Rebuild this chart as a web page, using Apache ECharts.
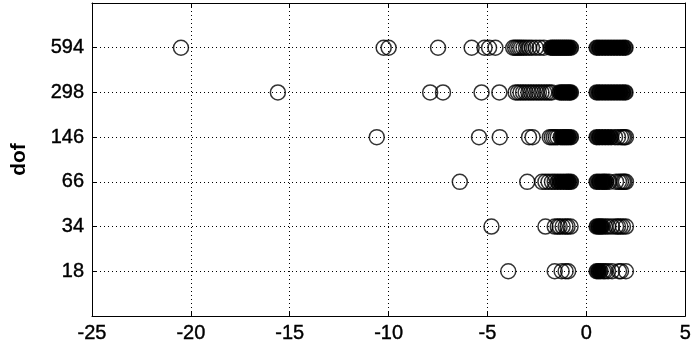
<!DOCTYPE html>
<html>
<head>
<meta charset="utf-8">
<script src="https://cdn.jsdelivr.net/npm/echarts@6/dist/echarts.min.js"></script>
<style>
  html, body { margin: 0; background: #fff; }
  #chart { width: 694px; height: 351px; }
</style>
</head>
<body>
<div id="chart"></div>
<script>
var dofLabels = ['18', '34', '66', '146', '298', '594']
var xTicks = [-25, -20, -15, -10, -5, 0, 5]

// points that stand apart, drawn as open circles
var open18 = [-3.95, -1.6, -1.25, -1.05, -0.92, 0.85, 0.95, 1.1, 1.3, 1.65, 1.75, 2.0]
var open34 = [-4.8, -2.07, -1.6, -1.45, -1.35, -1.2, -1.05, -0.95, -0.8, 0.95, 1.1, 1.3, 1.5, 1.6, 1.72, 1.85, 2.0]
var open66 = [-6.4, -2.99, -2.24, -2.07, -1.91, -1.74, -1.6, 1.15, 1.5, 1.65, 1.75, 1.85, 1.92, 2.0]
var open146 = [-10.6, -5.43, -4.38, -2.9, -2.72, -1.85, -1.75, -1.65, -1.55, -1.45, 1.45, 1.6, 1.75, 1.85, 1.92, 2.0]
var open298 = [-15.6, -7.9, -7.25, -5.3, -4.4, -3.58, -3.46, -3.33, -3.2, -3.07, -2.93, -2.8, -2.67, -2.53, -2.4, -2.27, -2.13, -2.0, -1.87, -1.75]
var open594 = [-20.5, -10.25, -10.0, -7.5, -5.8, -5.15, -4.92, -4.6, -3.7, -3.6, -3.5, -3.4, -3.3, -3.18, -3.05, -2.9, -2.75, -2.55, -2.35, -2.15]

// packed points whose outlines merge into solid black
var packed18 = [0.52, 0.62, 0.72]
var packed34 = [0.52, 0.62, 0.72, 0.8]
var packed66 = [-1.45, -1.3, -1.15, -1.0, -0.9, -0.78, 0.52, 0.65, 0.8, 0.9, 1.0]
var packed146 = [-1.3, -1.2, -1.1, -1.0, -0.9, -0.78, 0.52, 0.65, 0.8, 0.95, 1.1, 1.25]
var packed298 = [-1.35, -1.25, -1.15, -1.05, -0.95, -0.85, -0.78, 0.52, 0.65, 0.8, 0.95, 1.1, 1.25, 1.4, 1.55, 1.7, 1.85, 1.98]
var packed594 = [-1.8, -1.7, -1.6, -1.5, -1.4, -1.3, -1.2, -1.1, -1.0, -0.9, -0.78, 0.52, 0.65, 0.8, 0.95, 1.1, 1.25, 1.4, 1.55, 1.7, 1.85, 1.98]

var openRows = [open18, open34, open66, open146, open298, open594]
var packedRows = [packed18, packed34, packed66, packed146, packed298, packed594]

function toPoints(rows) {
  var pts = []
  rows.forEach(function (row, i) {
    row.forEach(function (v) { pts.push([v, i + 1]) })
  })
  return pts
}

var font = 'Liberation Sans, Arial, sans-serif'
var dotted = { color: '#000', width: 1, type: [1, 3] }
var border = { onZero: false, lineStyle: { color: '#000', width: 1 } }
var ticks = { inside: true, length: 5, lineStyle: { color: '#000' } }
var labelStyle = { color: '#000', fontSize: 20, fontFamily: font, textBorderColor: '#000', textBorderWidth: 0.4 }

var chart = echarts.init(document.getElementById('chart'))
chart.setOption({
  backgroundColor: '#fff',
  animation: false,
  grid: { left: 92, right: 4, top: 3, bottom: 35 },
  xAxis: [{
    type: 'value',
    min: -25,
    max: 5,
    interval: 5,
    axisLine: border,
    axisTick: ticks,
    axisLabel: Object.assign({
      margin: 7,
      formatter: function (v) { return xTicks.indexOf(v) >= 0 ? String(v) : '' }
    }, labelStyle),
    splitLine: { show: true, lineStyle: dotted }
  }, {
    type: 'value',
    position: 'top',
    min: -25,
    max: 5,
    interval: 5,
    axisLine: border,
    axisTick: ticks,
    axisLabel: { show: false },
    splitLine: { show: false }
  }],
  yAxis: [{
    type: 'value',
    min: 0,
    max: 7,
    interval: 1,
    name: 'dof',
    nameLocation: 'middle',
    nameRotate: 90,
    nameGap: 62,
    nameTextStyle: { color: '#000', fontSize: 21, fontWeight: 'bold', fontFamily: font },
    axisLine: Object.assign({ show: true }, border),
    axisTick: ticks,
    axisLabel: Object.assign({
      margin: 8,
      formatter: function (v) { return dofLabels[v - 1] || '' }
    }, labelStyle),
    splitLine: { show: true, lineStyle: dotted }
  }, {
    type: 'value',
    position: 'right',
    min: 0,
    max: 7,
    interval: 1,
    axisLine: Object.assign({ show: true }, border),
    axisTick: ticks,
    axisLabel: { show: false },
    splitLine: { show: false }
  }],
  series: [{
    name: 'open',
    type: 'scatter',
    symbol: 'circle',
    symbolSize: 15,
    itemStyle: { color: 'rgba(0,0,0,0)', borderColor: '#000', borderWidth: 1.5 },
    data: toPoints(openRows)
  }, {
    name: 'packed',
    type: 'scatter',
    symbol: 'circle',
    symbolSize: 15,
    itemStyle: { color: '#000', borderColor: '#000', borderWidth: 1.5 },
    data: toPoints(packedRows)
  }]
})
window.onresize = function () {
  chart.resize()
}
</script>
</body>
</html>
